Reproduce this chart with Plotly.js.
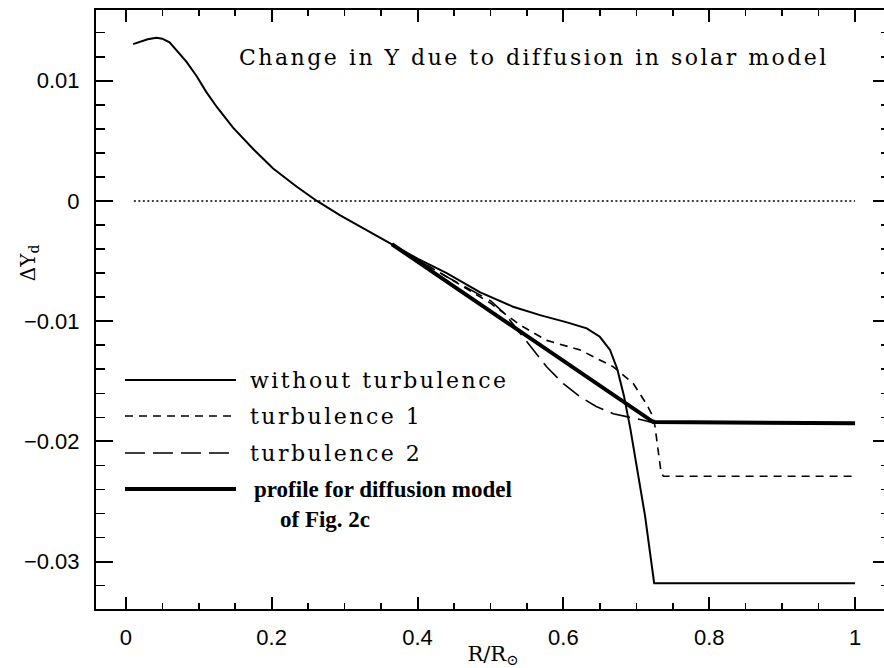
<!DOCTYPE html>
<html>
<head>
<meta charset="utf-8">
<script src="https://cdn.plot.ly/plotly-3.0.1.min.js"></script>
<style>
html,body{margin:0;padding:0;overflow:hidden;background:#fff;}
#plot{width:892px;height:668px;}
text.annotation-text.spaced, text.annotation-text[data-unformatted^="Change"],
text.annotation-text[data-unformatted^="without"], text.annotation-text[data-unformatted^="turbulence"]{letter-spacing:2.5px;}
</style>
</head>
<body>
<div id="plot"></div>
<script>
// ---- data ----
const rNoTurb = [0.010,0.020,0.030,0.042,0.050,0.060,0.070,0.083,0.097,0.110,0.125,0.147,0.175,0.202,0.234,0.262,0.294,0.330,0.365,
                 0.400,0.440,0.486,0.531,0.568,0.605,0.632,0.650,0.664,0.674,0.683,0.692,0.702,0.712,0.7245,1.000];
const dyNoTurb = [0.01305,0.01325,0.01345,0.01358,0.01350,0.01320,0.01250,0.01160,0.01040,0.00910,0.00780,0.00610,0.00430,0.00270,0.00120,0.00000,-0.00120,-0.00240,-0.00360,
                  -0.00480,-0.00600,-0.00760,-0.00880,-0.00950,-0.01010,-0.01060,-0.01130,-0.01240,-0.01400,-0.01620,-0.01900,-0.02250,-0.02620,-0.03180,-0.03180];

const rTurb1  = [0.365,0.400,0.440,0.470,0.500,0.540,0.5635,0.5772,0.623,0.6685,0.696,0.714,0.7234,0.7257,0.7339,0.737,1.000];
const dyTurb1 = [-0.0036,-0.0049,-0.0063,-0.0074,-0.0085,-0.0103,-0.0111,-0.0116,-0.0124,-0.0138,-0.0152,-0.0169,-0.0180,-0.0188,-0.02256,-0.0229,-0.0229];

const rTurb2  = [0.365,0.400,0.440,0.470,0.500,0.520,0.545,0.577,0.600,0.623,0.645,0.6685,0.710,0.725,1.000];
const dyTurb2 = [-0.0036,-0.0049,-0.0063,-0.0073,-0.0083,-0.0094,-0.0113,-0.0138,-0.0152,-0.0163,-0.0171,-0.0177,-0.01825,-0.0185,-0.0185];

const rProfile  = [0.365,0.7234,1.000];
const dyProfile = [-0.0036,-0.0184,-0.0185];

const rZero  = [0.011,1.000];
const dyZero = [0,0];

const seriesNames = ["without turbulence","turbulence 1","turbulence 2","profile for diffusion model","of Fig. 2c"];
const chartTitle = "Change in Y due to diffusion in solar model";
const xTitle = "R/R<sub>⊙</sub>";
const yTitle = "ΔY<sub>d</sub>";

// ---- styles ----
const SERIF = "DejaVu Serif, serif";
const dashShort = "8px,6px";
const dashLong = "20px,8px";

const traces = [
  {x:rZero, y:dyZero, mode:"lines", line:{color:"#000", width:1.5, dash:"2px,2.5px"}, showlegend:false, hoverinfo:"skip"},
  {x:rNoTurb, y:dyNoTurb, mode:"lines", name:seriesNames[0], line:{color:"#000", width:2}},
  {x:rTurb1, y:dyTurb1, mode:"lines", name:seriesNames[1], line:{color:"#000", width:1.6, dash:dashShort}},
  {x:rTurb2, y:dyTurb2, mode:"lines", name:seriesNames[2], line:{color:"#000", width:1.6, dash:dashLong}},
  {x:rProfile, y:dyProfile, mode:"lines", name:seriesNames[3], line:{color:"#000", width:4}}
];

// legend drawn as shapes + annotations (paper coordinates)
const lgX0 = 0.0365, lgX1 = 0.1763, lgT = 0.1914;
const lgRows = [0.3823, 0.3222, 0.2604, 0.2003];
const lgStyles = [{width:2},{width:1.6,dash:dashShort},{width:1.6,dash:dashLong},{width:4}];
const shapes = lgRows.map((yy,i)=>({type:"line", xref:"paper", yref:"paper", x0:lgX0, x1:lgX1, y0:yy, y1:yy,
  line:Object.assign({color:"#000"}, lgStyles[i])}));

const annotations = [
  {xref:"paper", yref:"paper", x:0.1776, y:0.9215, xanchor:"left", yanchor:"middle", showarrow:false,
   text:chartTitle, font:{family:SERIF, size:22, color:"#000"}},
  {xref:"paper", yref:"paper", x:lgT, y:lgRows[0], xanchor:"left", yanchor:"middle", showarrow:false,
   text:seriesNames[0], font:{family:SERIF, size:22, color:"#000"}},
  {xref:"paper", yref:"paper", x:lgT, y:lgRows[1], xanchor:"left", yanchor:"middle", showarrow:false,
   text:seriesNames[1], font:{family:SERIF, size:22, color:"#000"}},
  {xref:"paper", yref:"paper", x:lgT, y:lgRows[2], xanchor:"left", yanchor:"middle", showarrow:false,
   text:seriesNames[2], font:{family:SERIF, size:22, color:"#000"}},
  {xref:"paper", yref:"paper", x:0.197, y:lgRows[3], xanchor:"left", yanchor:"middle", showarrow:false,
   text:seriesNames[3], font:{family:"Liberation Serif, serif", size:23, weight:"bold", color:"#000"}},
  {xref:"paper", yref:"paper", x:0.229, y:0.1486, xanchor:"left", yanchor:"middle", showarrow:false,
   text:seriesNames[4], font:{family:"Liberation Serif, serif", size:23, weight:"bold", color:"#000"}},
  {xref:"paper", yref:"paper", x:-0.0844, y:0.579, xanchor:"center", yanchor:"middle", showarrow:false, textangle:-90,
   text:yTitle, font:{family:SERIF, size:20, color:"#000"}}
];

const axisCommon = {
  showline:true, linecolor:"#000", linewidth:2, mirror:"ticks",
  ticks:"inside", tickcolor:"#000", tickwidth:2,
  showgrid:false, zeroline:false,
  tickfont:{family:"Liberation Sans, Arial, sans-serif", size:22, color:"#000"}
};

const layout = {
  width:892, height:668,
  margin:{l:96, r:2, t:10, b:59},
  paper_bgcolor:"#fff", plot_bgcolor:"#fff",
  showlegend:false,
  xaxis:Object.assign({}, axisCommon, {
    range:[-0.0409, 1.0479], tick0:0, dtick:0.2, ticklen:12, ticklabelstandoff:8,
    minor:{dtick:0.05, tick0:0, ticks:"inside", ticklen:6, tickwidth:1.5, tickcolor:"#000", showgrid:false},
    title:{text:xTitle, standoff:4, font:{family:SERIF, size:21, color:"#000"}}
  }),
  yaxis:Object.assign({}, axisCommon, {
    range:[-0.03395, 0.01589], tick0:0, dtick:0.01, ticklen:17, ticklabelstandoff:10,
    minor:{dtick:0.002, tick0:0, ticks:"inside", ticklen:9, tickwidth:1.5, tickcolor:"#000", showgrid:false}
  }),
  shapes:shapes,
  annotations:annotations
};

Plotly.newPlot("plot", traces, layout, {staticPlot:true, displayModeBar:false});
</script>
</body>
</html>
